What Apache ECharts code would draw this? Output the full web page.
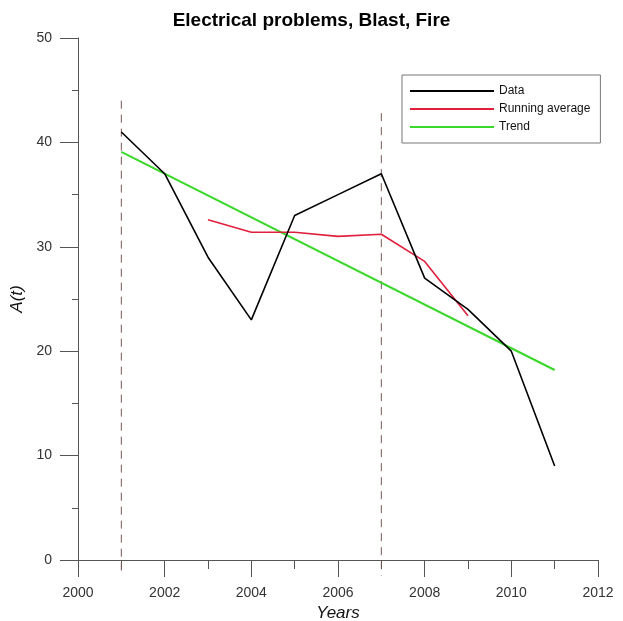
<!DOCTYPE html>
<html>
<head>
<meta charset="utf-8">
<script src="https://cdn.jsdelivr.net/npm/echarts@6/dist/echarts.min.js"></script>
<style>html,body{margin:0;padding:0;background:#fff}#c{width:623px;height:621px}</style>
</head>
<body>
<div id="c"></div>
<script>
var years = [2001, 2002, 2003, 2004, 2005, 2006, 2007, 2008, 2009, 2010, 2011];
var dataValues = [41, 37, 29, 23, 33, 35, 37, 27, 24, 20, 9];
var avgYears = [2003, 2004, 2005, 2006, 2007, 2008, 2009];
var avgValues = [32.6, 31.4, 31.4, 31.0, 31.2, 28.6, 23.4];
var trendYears = [2001, 2011];
var trendValues = [39.1, 18.2];
var eventYears = [2001, 2007];
var eventTops = [44, 42.8];
var eventBottom = -1.5;

function pairs(xs, ys) { return xs.map(function (x, i) { return [x, ys[i]]; }); }

var chart = echarts.init(document.getElementById('c'), null, {renderer: 'canvas'});
var font = 'Arial, "Liberation Sans", sans-serif';
var series = [
  {name: 'Data', type: 'line', data: pairs(years, dataValues), symbol: 'none',
   lineStyle: {color: '#000000', width: 1.6}, itemStyle: {color: '#000000'}, z: 5},
  {name: 'Running average', type: 'line', data: pairs(avgYears, avgValues), symbol: 'none',
   lineStyle: {color: '#e0203c', width: 1.6}, itemStyle: {color: '#e0203c'}, z: 4},
  {name: 'Trend', type: 'line', data: pairs(trendYears, trendValues), symbol: 'none',
   lineStyle: {color: '#3ad82a', width: 2}, itemStyle: {color: '#3ad82a'}, z: 3}
];
eventYears.forEach(function (yr, i) {
  series.push({name: 'event' + i, type: 'line', data: [[yr, eventTops[i]], [yr, eventBottom]],
    symbol: 'none', clip: false, silent: true, z: 2,
    lineStyle: {color: '#7a5858', width: 1, type: [8, 6]}});
});

chart.setOption({
  animation: false,
  backgroundColor: '#ffffff',
  title: {text: 'Electrical problems, Blast, Fire', left: 'center', top: 6,
    textStyle: {fontFamily: font, fontSize: 19, fontWeight: 'bold', color: '#000'}},
  legend: {
    data: ['Data', 'Running average', 'Trend'],
    orient: 'vertical', left: 402, top: 75,
    icon: 'rect', itemWidth: 84, itemHeight: 2, itemGap: 4,
    padding: [9, 10, 9, 8],
    borderColor: '#777', borderWidth: 1, backgroundColor: '#fff',
    textStyle: {fontFamily: font, fontSize: 12, color: '#111', lineHeight: 14},
    selectedMode: false
  },
  grid: {left: 78, right: 25, top: 38, bottom: 61, containLabel: false, outerBoundsMode: 'none'},
  xAxis: {
    type: 'value', min: 2000, max: 2012, interval: 2,
    name: 'Years', nameLocation: 'middle', nameGap: 45,
    nameTextStyle: {fontFamily: font, fontSize: 17, fontStyle: 'italic', color: '#111'},
    axisLine: {show: true, onZero: false, lineStyle: {color: '#555', width: 1}},
    axisTick: {show: true, length: 17, lineStyle: {color: '#555'}},
    minorTick: {show: true, splitNumber: 2, length: 9, lineStyle: {color: '#555'}},
    splitLine: {show: false},
    axisLabel: {formatter: function (v) { return String(v); }, margin: 26,
      fontFamily: font, fontSize: 14, color: '#333'}
  },
  yAxis: {
    type: 'value', min: 0, max: 50, interval: 10,
    name: 'A(t)', nameLocation: 'middle', nameGap: 50, nameRotate: 90,
    nameTextStyle: {fontFamily: font, fontSize: 17, fontStyle: 'italic', color: '#111'},
    axisLine: {show: true, lineStyle: {color: '#555', width: 1}},
    axisTick: {show: true, length: 18, lineStyle: {color: '#555'}},
    minorTick: {show: true, splitNumber: 2, length: 6, lineStyle: {color: '#555'}},
    splitLine: {show: false},
    axisLabel: {margin: 26, fontFamily: font, fontSize: 14, color: '#333'}
  },
  series: series
});
</script>
</body>
</html>
